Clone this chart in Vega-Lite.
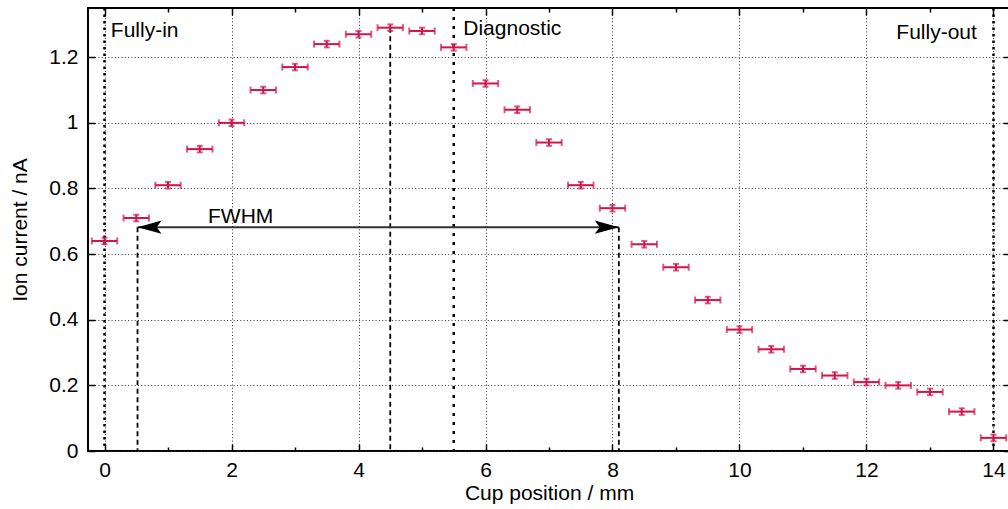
{
  "$schema": "https://vega.github.io/schema/vega-lite/v6.json",
  "width": 922,
  "height": 443,
  "autosize": {"type": "none"},
  "padding": {"left": 88, "top": 8, "right": 0, "bottom": 58},
  "datasets": {
    "meas": [
      {"pos": 0.0, "cur": 0.64, "ex": 0.2, "ey": 0.01},
      {"pos": 0.5, "cur": 0.71, "ex": 0.2, "ey": 0.01},
      {"pos": 1.0, "cur": 0.81, "ex": 0.2, "ey": 0.01},
      {"pos": 1.5, "cur": 0.92, "ex": 0.2, "ey": 0.01},
      {"pos": 2.0, "cur": 1.0, "ex": 0.2, "ey": 0.01},
      {"pos": 2.5, "cur": 1.1, "ex": 0.2, "ey": 0.01},
      {"pos": 3.0, "cur": 1.17, "ex": 0.2, "ey": 0.01},
      {"pos": 3.5, "cur": 1.24, "ex": 0.2, "ey": 0.01},
      {"pos": 4.0, "cur": 1.27, "ex": 0.2, "ey": 0.01},
      {"pos": 4.5, "cur": 1.29, "ex": 0.2, "ey": 0.01},
      {"pos": 5.0, "cur": 1.28, "ex": 0.2, "ey": 0.01},
      {"pos": 5.5, "cur": 1.23, "ex": 0.2, "ey": 0.01},
      {"pos": 6.0, "cur": 1.12, "ex": 0.2, "ey": 0.01},
      {"pos": 6.5, "cur": 1.04, "ex": 0.2, "ey": 0.01},
      {"pos": 7.0, "cur": 0.94, "ex": 0.2, "ey": 0.01},
      {"pos": 7.5, "cur": 0.81, "ex": 0.2, "ey": 0.01},
      {"pos": 8.0, "cur": 0.74, "ex": 0.2, "ey": 0.01},
      {"pos": 8.5, "cur": 0.63, "ex": 0.2, "ey": 0.01},
      {"pos": 9.0, "cur": 0.56, "ex": 0.2, "ey": 0.01},
      {"pos": 9.5, "cur": 0.46, "ex": 0.2, "ey": 0.01},
      {"pos": 10.0, "cur": 0.37, "ex": 0.2, "ey": 0.01},
      {"pos": 10.5, "cur": 0.31, "ex": 0.2, "ey": 0.01},
      {"pos": 11.0, "cur": 0.25, "ex": 0.2, "ey": 0.01},
      {"pos": 11.5, "cur": 0.23, "ex": 0.2, "ey": 0.01},
      {"pos": 12.0, "cur": 0.21, "ex": 0.2, "ey": 0.01},
      {"pos": 12.5, "cur": 0.2, "ex": 0.2, "ey": 0.01},
      {"pos": 13.0, "cur": 0.18, "ex": 0.2, "ey": 0.01},
      {"pos": 13.5, "cur": 0.12, "ex": 0.2, "ey": 0.01},
      {"pos": 14.0, "cur": 0.04, "ex": 0.2, "ey": 0.01}
    ],
    "marks": [
      {"pos": 0, "kind": "end"},
      {"pos": 5.5, "kind": "diag"},
      {"pos": 14, "kind": "end"}
    ],
    "drops": [
      {"pos": 0.52, "top": 0.682},
      {"pos": 4.5, "top": 1.29},
      {"pos": 8.1, "top": 0.682}
    ],
    "arrow": [
      {"from": 0.52, "to": 8.1, "level": 0.682}
    ],
    "heads": [
      {"pos": 0.52, "level": 0.682, "side": "left"},
      {"pos": 8.1, "level": 0.682, "side": "right"}
    ],
    "labels": [
      {"pos": 0.1, "level": 1.262, "text": "Fully-in"},
      {"pos": 5.65, "level": 1.268, "text": "Diagnostic"},
      {"pos": 12.47, "level": 1.256, "text": "Fully-out"},
      {"pos": 1.63, "level": 0.696, "text": "FWHM"}
    ]
  },
  "resolve": {"scale": {"x": "shared", "y": "shared"}, "axis": {"x": "independent", "y": "independent"}},
  "layer": [
    {
      "data": {"name": "marks"},
      "mark": {"type": "rule", "color": "#000", "strokeWidth": 2.5, "strokeCap": "butt"},
      "encoding": {
        "x": {"field": "pos", "type": "quantitative", "scale": {"domain": [-0.26, 14.26], "nice": false, "zero": false},
          "axis": {"orient": "bottom", "values": [0, 2, 4, 6, 8, 10, 12, 14], "format": "~g", "title": "Cup position / mm",
            "grid": true, "gridDash": [1, 2.3], "gridColor": "#333", "gridWidth": 1, "tickSize": -7, "labelPadding": 15, "titlePadding": 2}},
        "strokeDash": {"field": "kind", "type": "nominal", "scale": {"domain": ["end", "diag"], "range": [[2.5, 4], [3, 6]]}, "legend": null}
      }
    },
    {
      "data": {"name": "drops"},
      "mark": {"type": "rule", "color": "#000", "strokeWidth": 1.8, "strokeDash": [5, 3.5]},
      "encoding": {
        "x": {"field": "pos", "type": "quantitative",
          "axis": {"orient": "top", "values": [0, 2, 4, 6, 8, 10, 12, 14], "labels": false, "title": null, "grid": false, "tickSize": -7}},
        "y": {"field": "top", "type": "quantitative", "scale": {"domain": [0, 1.35], "nice": false, "zero": false},
          "axis": {"orient": "left", "values": [0, 0.2, 0.4, 0.6, 0.8, 1, 1.2], "format": "~g", "title": "Ion current / nA",
            "grid": true, "gridDash": [1, 2.3], "gridColor": "#333", "gridWidth": 1, "tickSize": -7, "labelPadding": 17, "titlePadding": 18}},
        "y2": {"datum": 0}
      }
    },
    {
      "data": {"name": "arrow"},
      "mark": {"type": "rule", "color": "#333", "strokeWidth": 2},
      "encoding": {
        "x": {"field": "from", "type": "quantitative",
          "axis": {"orient": "bottom", "values": [1, 3, 5, 7, 9, 11, 13], "labels": false, "title": null, "grid": false, "tickSize": -4}},
        "x2": {"field": "to"},
        "y": {"field": "level", "type": "quantitative",
          "axis": {"orient": "right", "values": [0, 0.2, 0.4, 0.6, 0.8, 1, 1.2], "labels": false, "title": null, "grid": false, "tickSize": -7}}
      }
    },
    {
      "data": {"name": "heads"},
      "mark": {"type": "point", "filled": true, "opacity": 1, "color": "#000", "strokeWidth": 0},
      "encoding": {
        "x": {"field": "pos", "type": "quantitative",
          "axis": {"orient": "top", "values": [1, 3, 5, 7, 9, 11, 13], "labels": false, "title": null, "grid": false, "tickSize": -4}},
        "y": {"field": "level", "type": "quantitative", "axis": null},
        "shape": {"field": "side", "type": "nominal", "scale": {"domain": ["left", "right"], "range": ["M0,0L2,-0.55L1.6,0L2,0.55Z", "M0,0L-2,-0.55L-1.6,0L-2,0.55Z"]}, "legend": null},
        "size": {"value": 576}
      }
    },
    {
      "data": {"name": "meas"},
      "mark": {"type": "errorbar", "color": "#d2144a", "thickness": 2, "ticks": {"size": 7, "thickness": 2}},
      "encoding": {
        "x": {"field": "pos", "type": "quantitative", "axis": null},
        "xError": {"field": "ex"},
        "y": {"field": "cur", "type": "quantitative", "axis": null}
      }
    },
    {
      "data": {"name": "meas"},
      "mark": {"type": "errorbar", "color": "#d2144a", "thickness": 2, "ticks": {"size": 6, "thickness": 2}},
      "encoding": {
        "x": {"field": "pos", "type": "quantitative", "axis": null},
        "y": {"field": "cur", "type": "quantitative", "axis": null},
        "yError": {"field": "ey"}
      }
    },
    {
      "data": {"name": "labels"},
      "mark": {"type": "text", "align": "left", "baseline": "alphabetic", "fontSize": 21, "font": "Liberation Sans", "color": "#000"},
      "encoding": {
        "x": {"field": "pos", "type": "quantitative", "axis": null},
        "y": {"field": "level", "type": "quantitative", "axis": null},
        "text": {"field": "text"}
      }
    }
  ],
  "config": {
    "view": {"stroke": "#000", "strokeWidth": 2},
    "font": "Liberation Sans",
    "axis": {
      "labelFont": "Liberation Sans", "labelFontSize": 21, "labelColor": "#000",
      "titleFont": "Liberation Sans", "titleFontSize": 21, "titleFontWeight": "normal", "titleColor": "#000",
      "domain": false, "tickColor": "#000", "tickWidth": 1.5, "labelFlush": false, "labelOverlap": false
    }
  }
}
